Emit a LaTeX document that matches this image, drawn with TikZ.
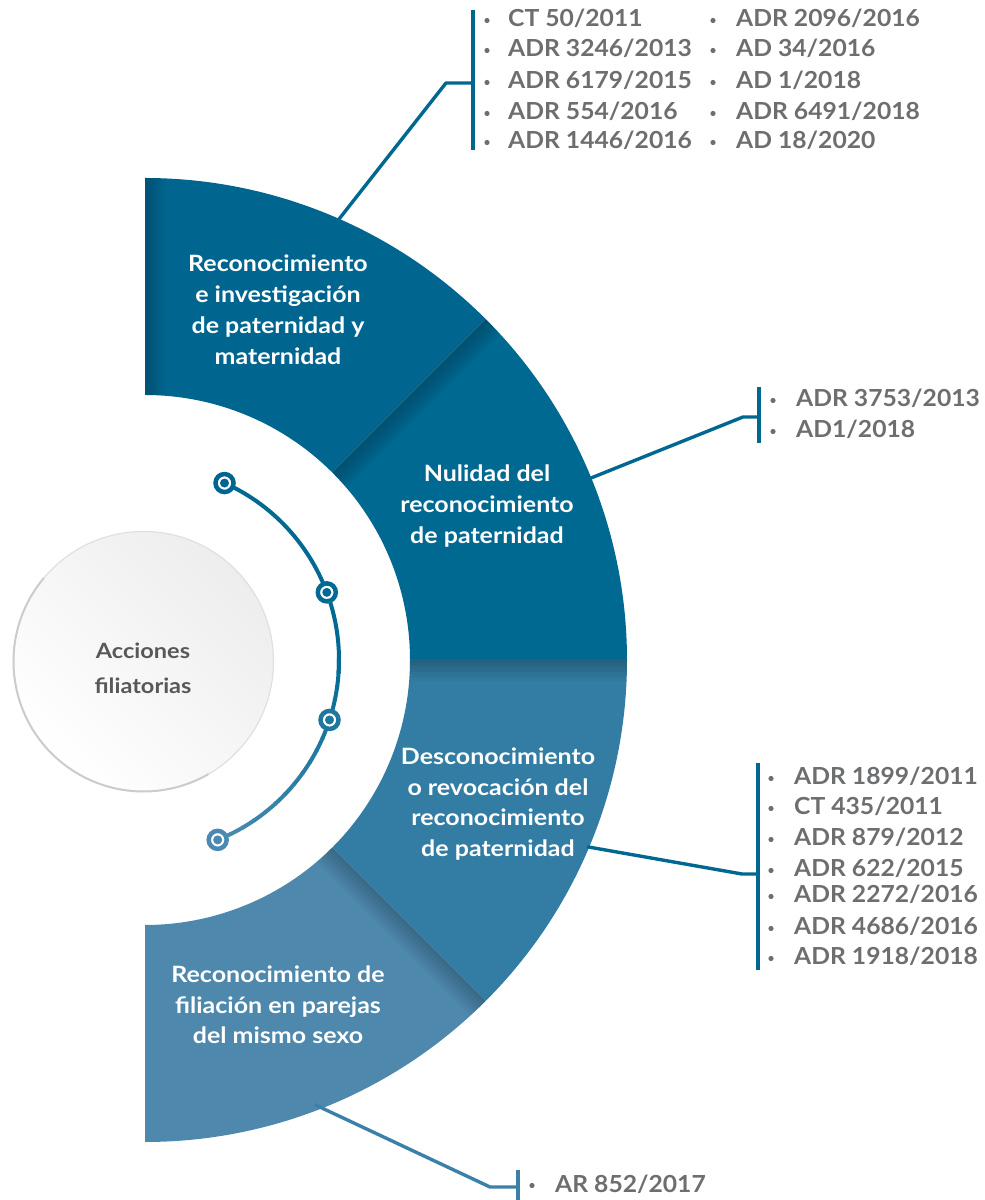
\documentclass[tikz,border=0pt]{standalone}
\usepackage{fontspec}
\setmainfont{Lato}
\newfontfamily\lstfont{Lato}[FakeStretch=1.05]
\newfontfamily\secfont{Lato}[FakeStretch=1.11]
\newfontfamily\ctrfont{Lato}[FakeStretch=1.12]
\usetikzlibrary{calc}
\definecolor{secA}{HTML}{00668F}
\definecolor{secB}{HTML}{006991}
\definecolor{secC}{HTML}{337DA4}
\definecolor{secD}{HTML}{4E88AD}
\definecolor{lineA}{HTML}{006890}
\definecolor{lineD}{HTML}{3A80A8}
\definecolor{arcDark}{HTML}{006A92}
\definecolor{arcLight}{HTML}{4A8AB2}
\definecolor{txtgray}{HTML}{6D6E70}
\definecolor{ctrgray}{HTML}{585858}
\newcommand{\ringsector}[2]{($(C)+(#1:482pt)$) arc[start angle=#1,end angle=#2,radius=482pt] -- ($(C)+(#2:265pt)$) arc[start angle=#2,end angle=#1,radius=265pt] -- cycle}
\newcommand{\secshadow}[3]{%
  \begin{scope}
    \clip \ringsector{#1}{#2};
    \begin{scope}[shift={(C)},rotate=#1]
      \foreach \w in {3,6,...,21} \fill[black,opacity=#3] (250,-\w) rectangle (500,0);
    \end{scope}
  \end{scope}}
\tikzset{
  lst/.style={font=\lstfont\fontsize{23.5}{28}\selectfont\bfseries, text=txtgray, anchor=base west, inner sep=0pt},
  sec/.style={font=\secfont\fontsize{22.5}{27}\selectfont\bfseries, text=white, anchor=base, inner sep=0pt},
  ctr/.style={font=\ctrfont\fontsize{21}{26}\selectfont\bfseries, text=ctrgray, anchor=base, inner sep=0pt},
  conn/.style={line width=3.4pt, line join=round},
  bar/.style={line width=4pt},
  bul/.style={fill=txtgray},
  marker/.style={fill=white, line width=4.5pt},
}
\begin{document}
\begin{tikzpicture}[x=1pt,y=1pt]
\useasboundingbox (0,0) rectangle (985,1200);
\coordinate (C) at (145,540);

% ring sectors
\fill[secA] \ringsector{90}{45};
\fill[secB] \ringsector{45}{0};
\fill[secC] \ringsector{0}{-45};
\fill[secD] \ringsector{-45}{-90};
\secshadow{90}{45}{0.022}
\secshadow{45}{0}{0.03}
\secshadow{0}{-45}{0.03}
\secshadow{-45}{-90}{0.03}

% sector texts
\node[sec] (s1a) at (278,928) {Reconocimiento};
\node[sec] (s1b) at (278,897) {e investigación};
\node[sec] (s1c) at (278,866) {de paternidad y};
\node[sec] (s1d) at (278,835) {maternidad};
\node[sec] (s2a) at (487,718) {Nulidad del};
\node[sec] (s2b) at (487,687) {reconocimiento};
\node[sec] (s2c) at (487,656) {de paternidad};
\node[sec] (s3a) at (498,435) {Desconocimiento};
\node[sec] (s3b) at (498,404) {o revocación del};
\node[sec] (s3c) at (498,374) {reconocimiento};
\node[sec] (s3d) at (498,343) {de paternidad};
\node[sec] (s4a) at (278,217) {Reconocimiento de};
\node[sec] (s4b) at (278,186) {filiación en parejas};
\node[sec] (s4c) at (278,156) {del mismo sexo};

% centre circle
\coordinate (O) at (143.5,538.5);
\shade[top color=black!7, bottom color=white, shading angle=-45] (O) circle[radius=130pt];
\draw[black!12, line width=1.2pt] (O) circle[radius=130pt];
\draw[black!20, line width=2pt] ($(O)+(140:130pt)$) arc[start angle=140,end angle=300,radius=130pt];
\node[ctr] (c1) at (143,541) {Acciones};
\node[ctr] (c2) at (143,506) {filiatorias};

% inner arc with markers
\draw[arcDark, line width=4pt] ($(C)+(65.8:194pt)$) arc[start angle=65.8,end angle=-4,radius=194pt];
\foreach \a [evaluate=\a as \t using {(-\a)*100/68}] in {-4,-8,...,-68} {
  \draw[arcLight!\t!arcDark, line width=4pt] ($(C)+(\a+4.5:194pt)$) arc[start angle=\a+4.5,end angle=\a,radius=194pt];
}
\coordinate (m1) at ($(C)+(65.8:194pt)$);
\coordinate (m2) at ($(C)+(20.4:194pt)$);
\coordinate (m3) at ($(C)+(-18:194pt)$);
\coordinate (m4) at ($(C)+(-68:194pt)$);
\draw[marker, draw=secA] (m1) circle[radius=9pt]; \fill[secA] (m1) circle[radius=4.5pt];
\draw[marker, draw=arcDark] (m2) circle[radius=9pt]; \fill[arcDark] (m2) circle[radius=4.5pt];
\draw[marker, draw=arcLight!40!arcDark] (m3) circle[radius=9pt]; \fill[arcLight!40!arcDark] (m3) circle[radius=4.5pt];
\draw[marker, draw=arcLight] (m4) circle[radius=9pt]; \fill[arcLight] (m4) circle[radius=4.5pt];

% connectors and bars
\coordinate (p1s) at ($(C)+(66.3:480pt)$);
\coordinate (p1k) at (446,1117);
\coordinate (b1) at (473,1117);
\coordinate (b1t) at (473,1190);
\coordinate (b1b) at (473,1050);
\draw[conn, lineA] (p1s) -- (p1k) -- (b1);
\draw[bar, lineA] (b1t) -- (b1b);

\coordinate (p2s) at ($(C)+(22.2:480pt)$);
\coordinate (p2k) at (743,783);
\coordinate (b2) at (759,783);
\coordinate (b2t) at (759,813);
\coordinate (b2b) at (759,757);
\draw[conn, lineA] (p2s) -- (p2k) -- (b2);
\draw[bar, lineA] (b2t) -- (b2b);

\coordinate (p3s) at ($(C)+(-22.9:480pt)$);
\coordinate (p3k) at (742,326);
\coordinate (b3) at (758,326);
\coordinate (b3t) at (758,437);
\coordinate (b3b) at (758,230);
\draw[conn, lineA] (p3s) -- (p3k) -- (b3);
\draw[bar, lineA] (b3t) -- (b3b);

\coordinate (p4s) at ($(C)+(-69.1:476pt)$);
\coordinate (p4k) at (490,13);
\coordinate (b4) at (518,13);
\coordinate (b4t) at (518,30);
\coordinate (b4b) at (518,0);
\draw[conn, lineD] (p4s) -- (p4k) -- (b4);
\draw[bar, lineD] (b4t) -- (b4b);

% lists
\foreach \y/\t [count=\i] in {1173/CT 50\slash 2011, 1143/ADR 3246\slash 2013, 1111/ADR 6179\slash 2015, 1080/ADR 554\slash 2016, 1051/ADR 1446\slash 2016} {
  \fill[bul] (487,\y+6.5) circle[radius=2.6pt];
  \node[lst] (la\i) at (508,\y) {\t};
}
\foreach \y/\t [count=\i] in {1173/ADR 2096\slash 2016, 1143/AD 34\slash 2016, 1111/AD 1\slash 2018, 1080/ADR 6491\slash 2018, 1051/AD 18\slash 2020} {
  \fill[bul] (713,\y+6.5) circle[radius=2.6pt];
  \node[lst] (lb\i) at (736,\y) {\t};
}
\foreach \y/\t [count=\i] in {793/ADR 3753\slash 2013, 762/AD1\slash 2018} {
  \fill[bul] (773,\y+6.5) circle[radius=2.6pt];
  \node[lst] (lc\i) at (796,\y) {\t};
}
\foreach \y/\t [count=\i] in {415/ADR 1899\slash 2011, 385/CT 435\slash 2011, 354/ADR 879\slash 2012, 323/ADR 622\slash 2015, 297/ADR 2272\slash 2016, 265/ADR 4686\slash 2016, 235/ADR 1918\slash 2018} {
  \fill[bul] (771,\y+6.5) circle[radius=2.6pt];
  \node[lst] (ld\i) at (794,\y) {\t};
}
\fill[bul] (532,14.5) circle[radius=2.6pt];
\node[lst] (le1) at (555,8) {AR 852\slash 2017};
\end{tikzpicture}
\end{document}
